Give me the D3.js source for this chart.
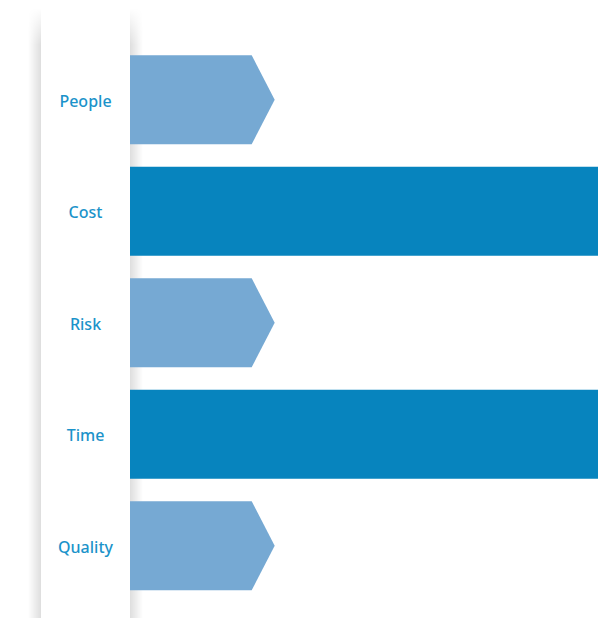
<!DOCTYPE html>
<html lang="en">
<head>
<meta charset="utf-8">
<title>Bars</title>
<script src="https://d3js.org/d3.v7.min.js"></script>
<style>
  html, body { margin: 0; padding: 0; background: #fff; }
  #chart { width: 598px; height: 618px; overflow: hidden; }
  text.label { font-family: "Noto Sans", sans-serif; font-size: 16px; font-weight: 500; fill: #1b93ca; }
</style>
</head>
<body>
<div id="chart"></div>
<script>
const categories = ["People", "Cost", "Risk", "Time", "Quality"];
const values = [26, 100, 26, 100, 26];
const highlight = [false, true, false, true, false];

const width = 598, height = 618;
const panelLeft = 41, panelRight = 130;
const shadowW = 13;
const arrowLen = 23;

const svg = d3.select("#chart").append("svg")
  .attr("width", width).attr("height", height);

const defs = svg.append("defs");

// side shadows: horizontal fade, vertical fade near the top
const gl = defs.append("linearGradient").attr("id", "shL").attr("x1", 0).attr("x2", 1);
gl.append("stop").attr("offset", 0).attr("stop-color", "#000").attr("stop-opacity", 0);
gl.append("stop").attr("offset", 1).attr("stop-color", "#000").attr("stop-opacity", 0.13);
const gr = defs.append("linearGradient").attr("id", "shR").attr("x1", 0).attr("x2", 1);
gr.append("stop").attr("offset", 0).attr("stop-color", "#000").attr("stop-opacity", 0.13);
gr.append("stop").attr("offset", 1).attr("stop-color", "#000").attr("stop-opacity", 0);

const gv = defs.append("linearGradient").attr("id", "fadeV")
  .attr("gradientUnits", "userSpaceOnUse")
  .attr("x1", 0).attr("x2", 0).attr("y1", 8).attr("y2", 45);
gv.append("stop").attr("offset", 0).attr("stop-color", "#fff").attr("stop-opacity", 0);
gv.append("stop").attr("offset", 1).attr("stop-color", "#fff").attr("stop-opacity", 1);
defs.append("mask").attr("id", "topFade")
  .attr("maskUnits", "userSpaceOnUse")
  .attr("x", 0).attr("y", 0).attr("width", width).attr("height", height)
  .append("rect").attr("x", 0).attr("y", 0).attr("width", width).attr("height", height)
  .attr("fill", "url(#fadeV)");

const panel = svg.append("g").attr("mask", "url(#topFade)");
panel.append("rect")
  .attr("x", panelLeft - shadowW).attr("y", 0)
  .attr("width", shadowW).attr("height", height)
  .attr("fill", "url(#shL)");
panel.append("rect")
  .attr("x", panelRight).attr("y", 0)
  .attr("width", shadowW).attr("height", height)
  .attr("fill", "url(#shR)");

const x = d3.scaleLinear().domain([0, 100]).range([panelRight, width]);
const y = d3.scaleBand().domain(categories).range([44, 601.5])
  .paddingInner(0.2).paddingOuter(0.1);

const data = categories.map((c, i) => ({ name: c, value: values[i], hi: highlight[i] }));

svg.append("g").selectAll("path")
  .data(data)
  .enter()
  .append("path")
  .attr("d", d => {
    const x0 = x(0), x1 = x(d.value);
    const y0 = y(d.name), h = y.bandwidth();
    return `M${x0},${y0}H${x1}L${x1 + arrowLen},${y0 + h / 2}L${x1},${y0 + h}H${x0}Z`;
  })
  .attr("fill", d => d.hi ? "#0784be" : "#76a9d3");

svg.append("g").selectAll("text")
  .data(data)
  .enter()
  .append("text")
  .attr("class", "label")
  .attr("x", (panelLeft + panelRight) / 2)
  .attr("y", d => y(d.name) + y.bandwidth() / 2)
  .attr("dy", "0.45em")
  .attr("text-anchor", "middle")
  .text(d => d.name);
</script>
</body>
</html>
